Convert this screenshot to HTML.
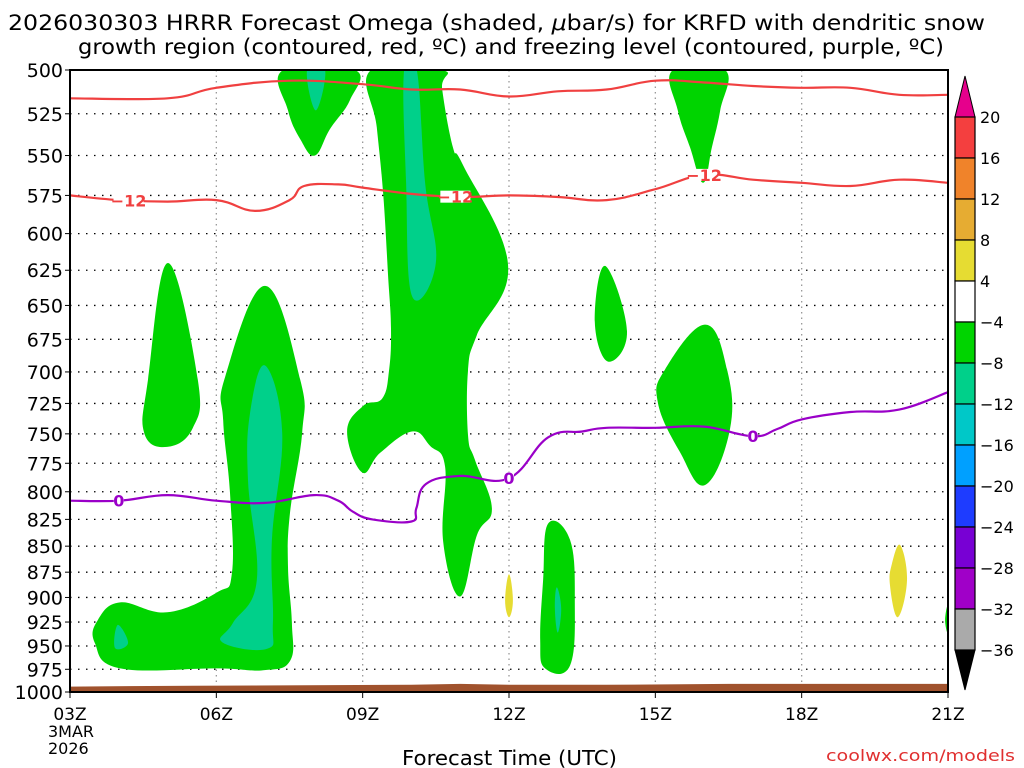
<!DOCTYPE html>
<html><head><meta charset="utf-8"><style>
html,body{margin:0;padding:0;background:#fff;}
svg{display:block;font-family:"DejaVu Sans","Liberation Sans",sans-serif;}
</style></head><body>
<svg id="chart" width="1024" height="768" viewBox="0 0 1024 768">
<g>
<text x="8" y="30" font-size="21" textLength="977" lengthAdjust="spacingAndGlyphs" fill="#000">2026030303 HRRR Forecast Omega (shaded, <tspan font-style="italic">μ</tspan>bar/s) for KRFD with dendritic snow</text>
<text x="78" y="54" font-size="21" textLength="866" lengthAdjust="spacingAndGlyphs" fill="#000">growth region (contoured, red, ºC) and freezing level (contoured, purple, ºC)</text>
</g>
<g id="grid"></g>
<g id="fills"></g>
<g id="terrain"></g>
<g id="lines"></g>
<rect x="70" y="70" width="878" height="622" fill="none" stroke="#000" stroke-width="2"/>
<g id="yaxis"></g>
<g id="xaxis"></g>
<g id="cbar"></g>
<text x="402" y="765" font-size="20" textLength="215" lengthAdjust="spacingAndGlyphs">Forecast Time (UTC)</text>
<text x="826" y="761" font-size="16" textLength="189" lengthAdjust="spacingAndGlyphs" fill="#e03030">coolwx.com/models</text>
</svg>
<script>
const pressTicks=[500,525,550,575,600,625,650,675,700,725,750,775,800,825,850,875,900,925,950,975,1000];
const hourTicks=[3,6,9,12,15,18,21];
const hourLabels=['03Z','06Z','09Z','12Z','15Z','18Z','21Z'];
const cbLabels=['20','16','12','8','4','−4','−8','−12','−16','−20','−24','−28','−32','−36'];
const cbColors=['#f43f3f','#f0832a','#e6ac32','#e6dc32','#ffffff','#00d400','#00d08a','#00c8c8','#00a0ff','#1e3cff','#7800d4','#a000c8','#aaaaaa'];
const polyGreen=[
[[7.37,500],[8.84,500],[8.74,517],[8.33,534],[8.02,550],[7.72,540],[7.47,523]],
[[9.17,500],[9.29,533],[9.42,574],[9.52,628],[9.58,667],[9.54,699],[9.40,721],[9.01,727],[8.68,748],[8.99,783],[9.36,766],[10.01,748],[10.38,760],[10.69,778],[10.65,846],[11.0,899],[11.34,840],[11.65,815],[11.30,772],[11.16,751],[11.16,699],[11.34,672],[11.98,621],[11.06,556],[10.85,545],[10.63,511],[10.63,500]],
[[5.01,620],[5.62,706],[5.52,745],[4.99,761],[4.52,749],[4.60,706]],
[[7.0,636],[7.72,706],[7.76,749],[7.51,819],[7.47,870],[7.55,926],[7.51,966],[6.96,976],[6.01,974],[4.03,974],[3.51,947],[3.57,923],[4.03,905],[4.99,915],[6.01,895],[6.32,876],[6.28,801],[6.14,739],[6.18,704]],
[[13.97,622],[14.42,669],[14.03,692],[13.76,662]],
[[15.36,500],[16.43,500],[16.33,523],[16.16,545],[15.98,567],[15.71,545],[15.46,523]],
[[16.02,664],[16.47,698],[16.53,746],[16.02,794],[15.5,765],[15.05,724],[15.20,698]],
[[12.80,829],[13.25,844],[13.35,903],[13.25,971],[12.74,974],[12.64,944],[12.70,883]],
[[21,908],[20.94,923],[21,936]]
];
const polyTeal=[
[[7.86,500],[8.23,500],[8.04,523]],
[[9.85,500],[10.11,500],[10.28,567],[10.50,620],[10.01,643],[9.89,567]],
[[7.0,695],[7.35,749],[7.14,844],[7.16,926],[7.04,953],[6.12,946],[6.34,926],[6.83,883],[6.65,790],[6.69,733]],
[[3.98,928],[4.19,947],[3.92,952]],
[[12.98,890],[13.07,911],[13.0,936],[12.94,911]]
];
const polyYellow=[
[[12.0,877],[12.08,903],[12.0,920],[11.92,903]],
[[20.02,849],[20.16,883],[19.97,920],[19.81,888],[19.85,867]]
];
const redTopH=[3,5,6,7.5,9,10,11,12,13,14,15,16,17,18,19,20,21];
const redTopP=[516,516,510,506,508,511,511,515,512,511,506,507,509,510,510,514,514];
const red12H=[3,4,5,6,6.8,7.5,7.8,8.5,9,10,11,12,13,14,15,16,17,18,19,20,21];
const red12P=[575,578,579,578,585,578,569,568,570,574,576,575,576,578,571,562,565,567,569,565,567];
const red12Labels=[4.2,10.9,16];
const purH=[3,4,5,6,7,8,8.5,8.8,9.2,10,10.1,10.3,11,12,12.8,13.5,14,15,16,17,17.5,18,19,20,21];
const purP=[808,808,803,808,810,803,808,818,825,827,815,793,786,788,753,748,745,745,744,752,746,738,732,730,716];
const purLabels=[4,12,17];
const sfcH=[3,5.5,10,11,12,14,16.5,21];
const sfcP=[994,993,992,991,992,992,991,991];

const X0=70,X1=948,Y0=70,Y1=692;
function xs(h){return X0+(h-3)/18*(X1-X0);}
function ys(p){return Y0+Math.log(p/500)/Math.log(2)*(Y1-Y0);}
const NS='http://www.w3.org/2000/svg';
function mk(tag,attrs,parent){const e=document.createElementNS(NS,tag);for(const k in attrs)e.setAttribute(k,attrs[k]);parent.appendChild(e);return e;}
function interp(H,P,h){for(let i=0;i<H.length-1;i++){if(h>=H[i]&&h<=H[i+1]){const t=(h-H[i])/(H[i+1]-H[i]);return P[i]+t*(P[i+1]-P[i]);}}return P[P.length-1];}
function smooth(pts,closed){const n=pts.length;let d='M'+pts[0][0].toFixed(1)+','+pts[0][1].toFixed(1);
const get=i=>closed?pts[(i+n)%n]:pts[Math.max(0,Math.min(n-1,i))];
const m=closed?n:n-1;
for(let i=0;i<m;i++){const p0=get(i-1),p1=get(i),p2=get(i+1),p3=get(i+2);const k=0.2;
const c1=[p1[0]+(p2[0]-p0[0])*k,p1[1]+(p2[1]-p0[1])*k],c2=[p2[0]-(p3[0]-p1[0])*k,p2[1]-(p3[1]-p1[1])*k];
d+=' C'+c1[0].toFixed(1)+','+c1[1].toFixed(1)+' '+c2[0].toFixed(1)+','+c2[1].toFixed(1)+' '+p2[0].toFixed(1)+','+p2[1].toFixed(1);}
return d+(closed?' Z':'');}

const grid=document.getElementById('grid');
pressTicks.forEach(p=>{const l=mk('line',{x1:X0,x2:X1,y1:ys(p),y2:ys(p),stroke:'#000','stroke-width':1.3,'stroke-dasharray':'1.5,6.5'},grid);

});
hourTicks.forEach(h=>{const l=mk('line',{x1:xs(h),x2:xs(h),y1:Y0,y2:Y1,stroke:'#999','stroke-width':1.3,'stroke-dasharray':'1.5,4'},grid);

});

const fills=document.getElementById('fills');
const clip=mk('clipPath',{id:'pc'},fills);mk('rect',{x:X0,y:Y0,width:X1-X0,height:Y1-Y0},clip);
function drawPolys(arr,color,name){arr.forEach(poly=>{const pts=poly.map(q=>[xs(q[0]),ys(q[1])]);
const e=mk('path',{d:smooth(pts,true),fill:color,'clip-path':'url(#pc)'},fills);

});}
drawPolys(polyGreen,'#00d400','omega-region-green');
drawPolys(polyTeal,'#00d08a','omega-region-teal');
drawPolys(polyYellow,'#e6dc32','omega-region-yellow');

const terr=document.getElementById('terrain');
let tp='M'+xs(3)+','+Y1;
sfcH.forEach((h,i)=>{tp+=' L'+xs(h).toFixed(1)+','+ys(sfcP[i]).toFixed(1);});
tp+=' L'+xs(21)+','+Y1+' Z';
const te=mk('path',{d:tp,fill:'#a0522d'},terr);



const lines=document.getElementById('lines');
function drawLine(H,P,color,name){const pts=H.map((h,i)=>[xs(h),ys(P[i])]);
const e=mk('path',{d:smooth(pts,false),fill:'none',stroke:color,'stroke-width':2.2},lines);

}
function drawLabels(H,P,hs,txt,color,name){hs.forEach(h=>{const x=xs(h),y=ys(interp(H,P,h));
const r=mk('rect',{x:x-(txt.length*5),y:y-6,width:txt.length*10,height:12,fill:'#fff'},lines);


const t=mk('text',{x:x,y:y+6,'font-size':16,'font-weight':'bold','text-anchor':'middle',fill:color},lines);
t.textContent=txt;

});}
drawLine(redTopH,redTopP,'#f04040','dgz-top-contour');
drawLine(red12H,red12P,'#f04040','minus12-contour');
drawLine(purH,purP,'#9a00c8','freezing-level-contour');
drawLabels(red12H,red12P,red12Labels,'−12','#f04040','minus12-label');
drawLabels(purH,purP,purLabels,'0','#9a00c8','freezing-label');

const ya=document.getElementById('yaxis');
pressTicks.forEach(p=>{const t=mk('text',{x:63,y:ys(p)+7,'font-size':19,'text-anchor':'end'},ya);t.textContent=p;


const l=mk('line',{x1:X0-5,x2:X0,y1:ys(p),y2:ys(p),stroke:'#000'},ya);

});
const xa=document.getElementById('xaxis');
hourTicks.forEach((h,i)=>{const t=mk('text',{x:xs(h),y:720,'font-size':17,'text-anchor':'middle'},xa);t.textContent=hourLabels[i];


const l=mk('line',{x1:xs(h),x2:xs(h),y1:Y1,y2:Y1+6,stroke:'#000'},xa);

});
[['3MAR',737],['2026',754]].forEach(a=>{const t=mk('text',{x:48,y:a[1],'font-size':16},xa);t.textContent=a[0];

});

const cb=document.getElementById('cbar');
const CX=955,CW=20,CT=117,CS=41;
const tri1=mk('polygon',{points:`${CX},${CT} ${CX+CW},${CT} ${CX+CW/2},76`,fill:'#e6008c',stroke:'#000'},cb);


cbColors.forEach((c,i)=>{const r=mk('rect',{x:CX,y:CT+i*CS,width:CW,height:CS,fill:c,stroke:'#000','stroke-width':1.2},cb);

});
const yb=CT+cbColors.length*CS;
const tri2=mk('polygon',{points:`${CX},${yb} ${CX+CW},${yb} ${CX+CW/2},690`,fill:'#000',stroke:'#000'},cb);


cbLabels.forEach((s,i)=>{const t=mk('text',{x:980,y:CT+i*CS+6,'font-size':16},cb);t.textContent=s;

});
</script>
</body></html>
